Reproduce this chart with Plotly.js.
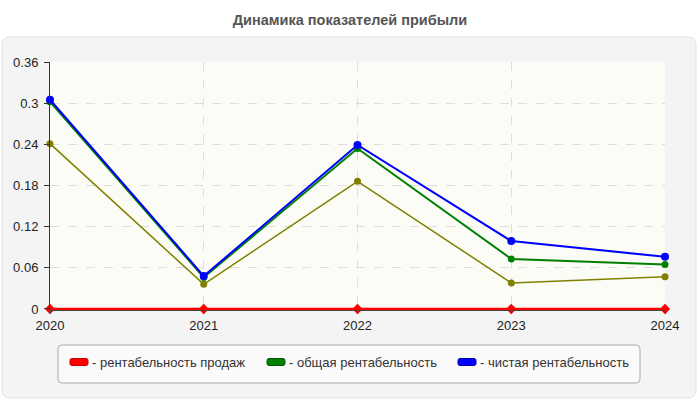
<!DOCTYPE html>
<html>
<head>
<meta charset="utf-8">
<script src="https://cdn.plot.ly/plotly-3.0.1.min.js"></script>
<style>
  html, body { margin: 0; padding: 0; background: #fff; }
  #chart { width: 700px; height: 400px; }
</style>
</head>
<body>
<div id="chart"></div>
<script>
// years and series
const years = [2020, 2021, 2022, 2023, 2024];
const salesProfit = [0, 0, 0, 0, 0];                      // рентабельность продаж
const totalProfit = [0.302, 0.046, 0.234, 0.073, 0.065];  // общая рентабельность
const netProfit = [0.305, 0.048, 0.239, 0.099, 0.076];    // чистая рентабельность
const extraSeries = [0.241, 0.036, 0.186, 0.038, 0.047];  // olive line, not in legend
const yTicks = [0, 0.06, 0.12, 0.18, 0.24, 0.3, 0.36];

const legendNames = ['- рентабельность продаж', '- общая рентабельность', '- чистая рентабельность'];
const legendColors = ['#ff0000', '#008000', '#0000ff'];
const legendEdges = ['#cc0000', '#005a00', '#0000b0'];

// plot area in pixels (used for panels and the legend box)
const L = 50, R = 665, T = 62, B = 310;
const px = (x) => (x - L) / (R - L);
const py = (y) => (B - y) / (B - T);

function roundRect(x0, y0, x1, y1, r) {
  const rx = r / (R - L), ry = r / (B - T);
  const a = px(x0), b = px(x1), top = py(y0), bot = py(y1);
  return `M${a + rx},${top} L${b - rx},${top} Q${b},${top} ${b},${top - ry} ` +
    `L${b},${bot + ry} Q${b},${bot} ${b - rx},${bot} L${a + rx},${bot} ` +
    `Q${a},${bot} ${a},${bot + ry} L${a},${top - ry} Q${a},${top} ${a + rx},${top} Z`;
}

function lineTrace(y, color, width, symbol, size) {
  return {
    x: years, y: y, type: 'scatter', mode: 'lines+markers',
    line: { color: color, width: width },
    marker: { color: color, size: size, symbol: symbol },
    cliponaxis: false, showlegend: false, hoverinfo: 'x+y',
  };
}

const data = [
  lineTrace(extraSeries, '#808000', 1.5, 'circle', 7),
  lineTrace(totalProfit, '#008000', 2, 'circle', 7),
  lineTrace(netProfit, '#0000ff', 2, 'circle', 8),
  lineTrace(salesProfit, '#ff0000', 2.5, 'diamond', 8),
];

// legend drawn by hand: box, swatches and labels
const legendX = [70, 267, 458];
const legendY = 362;
const shapes = [
  {
    type: 'path', xref: 'paper', yref: 'paper', layer: 'below',
    path: roundRect(2, 37, 696, 398, 8),
    fillcolor: '#f4f4f4', line: { color: '#e2e2e2', width: 1 },
  },
  {
    type: 'rect', xref: 'paper', yref: 'paper', layer: 'below',
    x0: 0, x1: 1, y0: 0, y1: 1,
    fillcolor: '#fcfcf6', line: { width: 0 },
  },
  {
    type: 'path', xref: 'paper', yref: 'paper', layer: 'above',
    path: roundRect(58, 345, 640, 383, 4),
    fillcolor: '#fafafa', line: { color: '#aaaaaa', width: 1 },
  },
];
const annotations = [];
legendNames.forEach((name, i) => {
  shapes.push({
    type: 'path', xref: 'paper', yref: 'paper', layer: 'above',
    path: roundRect(legendX[i], legendY - 3.5, legendX[i] + 18, legendY + 3.5, 2),
    fillcolor: legendColors[i], line: { color: legendEdges[i], width: 1 },
  });
  annotations.push({
    xref: 'paper', yref: 'paper', x: px(legendX[i] + 20), y: py(legendY),
    xanchor: 'left', yanchor: 'middle', showarrow: false, text: name,
    font: { size: 13, color: '#333' },
  });
});

const layout = {
  width: 700, height: 400,
  margin: { l: L, r: 700 - R, t: T, b: 400 - B },
  paper_bgcolor: '#ffffff',
  plot_bgcolor: '#fcfcf6',
  showlegend: false,
  font: { family: 'Arial, "Liberation Sans", sans-serif', size: 13, color: '#222' },
  title: {
    text: 'Динамика показателей прибыли',
    font: { size: 14.5, color: '#555', weight: 'bold' },
    x: 0.5, xanchor: 'center', y: 0.95, yanchor: 'middle', yref: 'container',
  },
  xaxis: {
    range: [2020, 2024], tickvals: years, ticktext: years.map(String),
    showgrid: true, gridcolor: '#dddddd', griddash: 'dash',
    showline: true, linecolor: '#444', zeroline: false,
    ticks: 'outside', ticklen: 3, tickcolor: '#444',
    tickfont: { size: 13, color: '#222' },
  },
  yaxis: {
    range: [-0.0015, 0.36], tickvals: yTicks, ticktext: yTicks.map(String),
    showgrid: true, gridcolor: '#dddddd', griddash: 'dash',
    showline: true, linecolor: '#333', ticks: 'outside', ticklen: 5, tickcolor: '#333',
    ticklabelstandoff: 3, zeroline: false, tickfont: { size: 13, color: '#222' },
  },
  shapes: shapes,
  annotations: annotations,
};

Plotly.newPlot('chart', data, layout, { displayModeBar: false, staticPlot: true });
</script>
</body>
</html>
